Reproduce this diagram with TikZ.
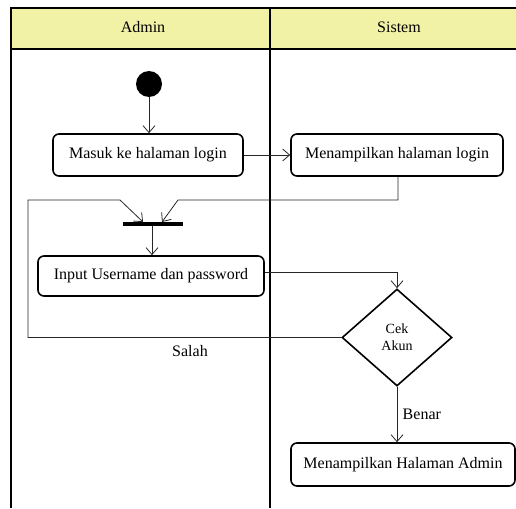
\documentclass[tikz,border=0pt]{standalone}
\usepackage{fontspec}
\setmainfont{Liberation Serif}
\usetikzlibrary{shapes.geometric,arrows.meta}
\definecolor{laneHead}{RGB}{242,242,166}
\begin{document}
\begin{tikzpicture}[x=1pt,y=-1pt,
  font=\fontsize{16}{19}\selectfont,
  lane/.style={line width=1.2pt},
  act/.style={draw,line width=1.6pt,rounded corners=6pt,minimum height=42pt,inner sep=0pt},
  flow/.style={draw=black!85,line width=0.8pt,-{Straight Barb[length=7pt,width=12pt]}},
  plain/.style={draw=black!85,line width=0.8pt}]
\useasboundingbox (0,0) rectangle (516,508);
\clip (0,0) rectangle (516,508);

% swimlanes
\fill[laneHead] (11,8) rectangle (520,49);
\draw[lane] (520,8) -- (11,8) -- (11,508);
\draw[lane] (11,49) -- (520,49);
\draw[lane] (270,8) -- (270,508);
\node (hAdmin) at (143,27) {Admin};
\node (hSistem) at (399,27) {Sistem};

% activities
\node[circle,fill=black,minimum size=26pt,inner sep=0pt] (start) at (149,84) {};
\node[act,minimum width=190pt] (masuk) at (148,155) {Masuk ke halaman login};
\node[act,minimum width=212pt] (tampil) at (397,155) {Menampilkan halaman login};
\node[fill=black,minimum width=60pt,minimum height=4pt,inner sep=0pt] (bar) at (153,224) {};
\node[act,minimum width=226pt,minimum height=40pt] (input) at (151,276) {Input Username dan password};
\node[draw,diamond,line width=1.6pt,minimum width=110pt,minimum height=97pt,inner sep=0pt,align=center,
      font=\fontsize{14}{17}\selectfont] (cek) at (397,337.5) {Cek\\Akun};
\node[act,minimum width=224pt,minimum height=43pt] (home) at (403,464.5) {Menampilkan Halaman Admin};

% turning points of the connectors
\coordinate (a1) at (398,200);
\coordinate (a2) at (178,200);
\coordinate (barR) at (162,222);
\coordinate (s1) at (28,337.5);
\coordinate (s2) at (28,200);
\coordinate (s3) at (120,200);
\coordinate (barL) at (143,222);
\coordinate (i1) at (397,272);

% connectors
\draw[flow] (start) -- (masuk.north -| start);
\draw[flow] (masuk.east) -- (tampil.west);
\draw[flow] (tampil.south -| a1) -- (a1) -- (a2) -- (barR);
\draw[flow] (cek.west) -- (s1) -- (s2) -- (s3) -- (barL);
\draw[flow] (bar.south -| 152,0) -- (input.north -| 152,0);
\draw[flow] (input.east |- i1) -- (i1) -- (cek.north);
\draw[flow] (cek.south) -- node[right,xshift=2pt] (lBenar) {Benar} (home.north -| cek.south);
\node (lSalah) at (190,351) {Salah};
\end{tikzpicture}
\end{document}
